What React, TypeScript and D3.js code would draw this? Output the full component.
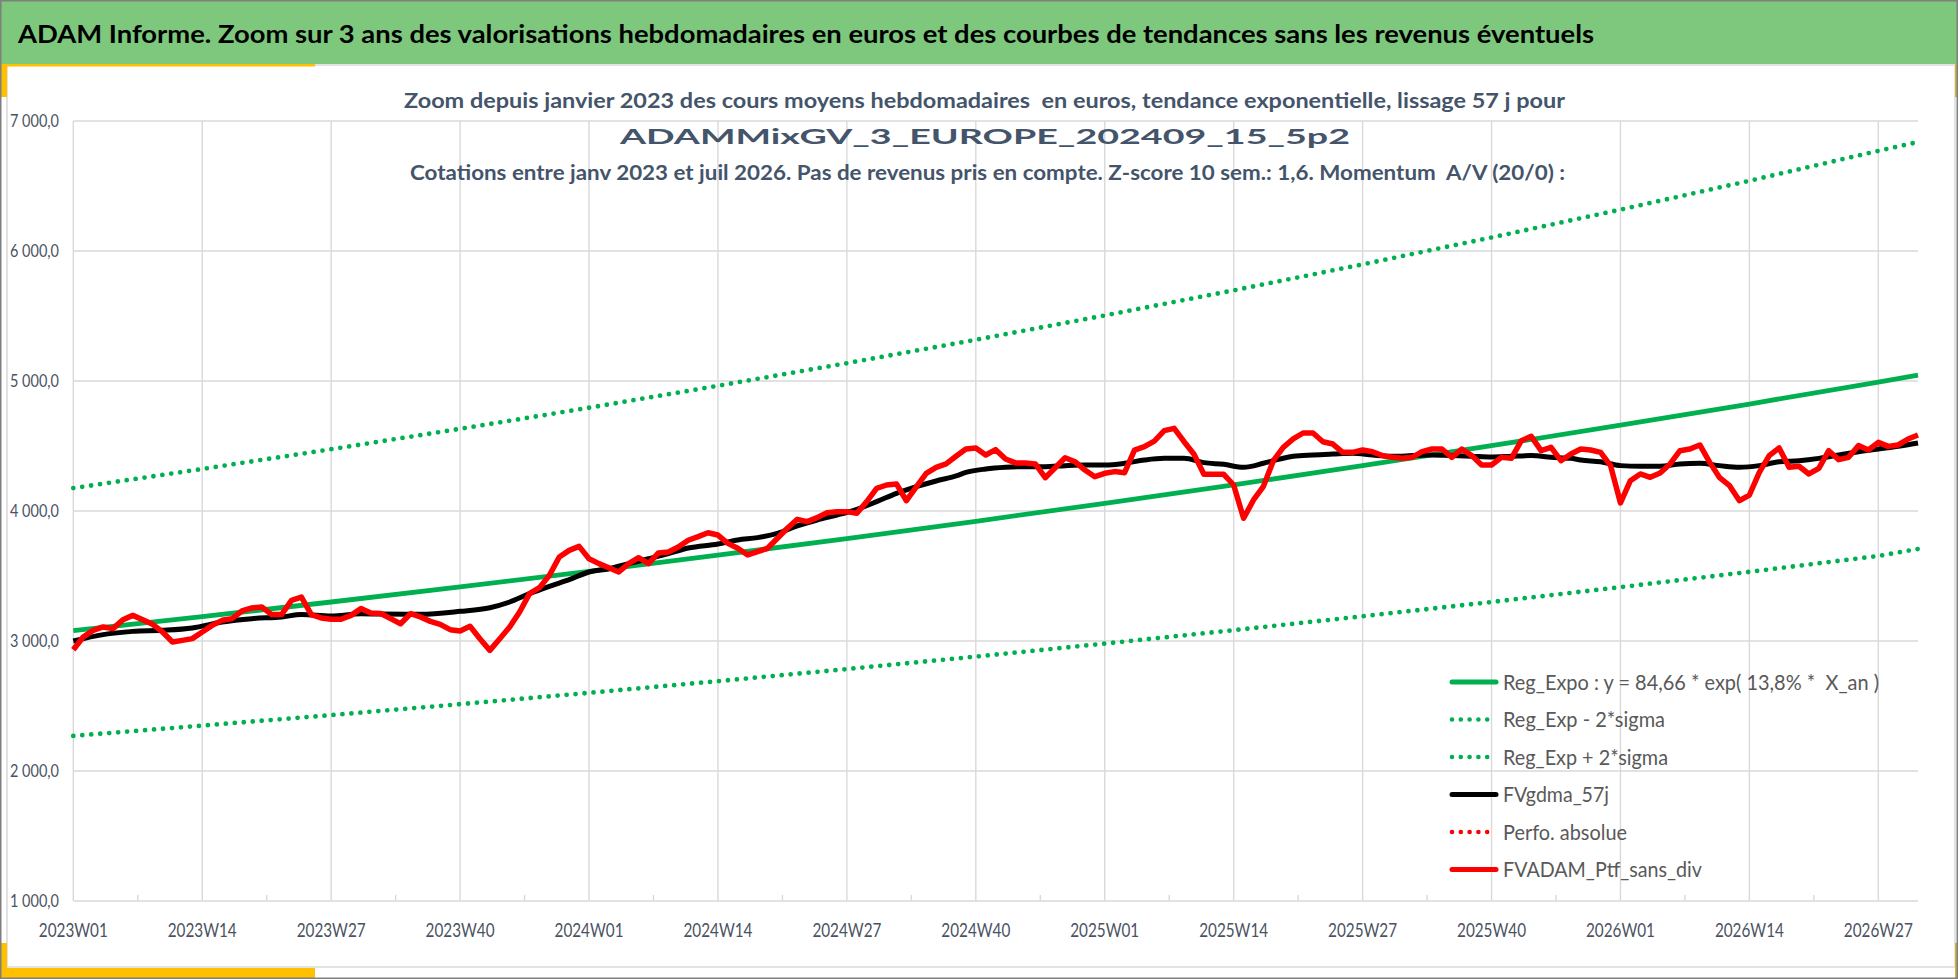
import * as d3 from "d3";

// weekly categories 2023W01 .. 2026W31 (index 0..186)
const N_WEEKS = 187;

const TICK_LABELS = [
  "2023W01", "2023W14", "2023W27", "2023W40", "2024W01", "2024W14", "2024W27", "2024W40",
  "2025W01", "2025W14", "2025W27", "2025W40", "2026W01", "2026W14", "2026W27",
];

const Y_TICKS = [1000, 2000, 3000, 4000, 5000, 6000, 7000];

// FVADAM_Ptf_sans_div, one value per week
const RED_VALUES = [
  2933, 3031, 3082, 3108, 3095, 3164, 3197, 3164, 3128, 3069, 2992, 3005, 3018, 3069, 3120, 3159,
  3172, 3231, 3254, 3262, 3203, 3203, 3313, 3338, 3203, 3177, 3167, 3167, 3197, 3249, 3215, 3212,
  3172, 3133, 3210, 3185, 3151, 3128, 3087, 3077, 3113, 3018, 2928, 3018, 3108, 3223, 3364, 3410,
  3505, 3646, 3697, 3728, 3633, 3595, 3564, 3531, 3595, 3641, 3595, 3677, 3685, 3723, 3775, 3803,
  3833, 3815, 3751, 3713, 3662, 3687, 3713, 3790, 3867, 3936, 3918, 3949, 3987, 3995, 3995, 3982,
  4072, 4174, 4200, 4208, 4079, 4185, 4290, 4336, 4362, 4421, 4477, 4485, 4431, 4472, 4400, 4370,
  4370, 4362, 4256, 4333, 4410, 4379, 4315, 4264, 4290, 4303, 4295, 4469, 4495, 4538, 4618, 4636,
  4533, 4436, 4282, 4282, 4282, 4200, 3944, 4085, 4190, 4387, 4490, 4554, 4600, 4600, 4533, 4515,
  4451, 4451, 4469, 4456, 4426, 4413, 4405, 4413, 4456, 4477, 4477, 4413, 4477, 4426, 4354, 4354,
  4413, 4405, 4541, 4574, 4464, 4490, 4387, 4438, 4477, 4469, 4451, 4349, 4062, 4233, 4285, 4259,
  4292, 4362, 4464, 4477, 4508, 4374, 4256, 4195, 4079, 4123, 4297, 4426, 4485, 4336, 4344, 4285,
  4328, 4464, 4395, 4413, 4503, 4469, 4528, 4497, 4508, 4554, 4585,
];

// FVgdma_57j, read every 2-3 weeks
const BLACK_WEEKS = [
  0, 3, 6, 9, 12, 15, 18, 21, 23, 26, 29, 31, 35, 39, 42, 44, 46, 48, 50, 52, 54, 56, 58, 60, 62,
  65, 67, 69, 71, 73, 75, 77, 79, 81, 83, 85, 87, 89, 90, 92, 94, 96, 98, 100, 102, 104, 106, 108,
  110, 112, 114, 116, 118, 120, 121, 123, 125, 127, 129, 131, 133, 135, 137, 139, 141, 143, 145,
  147, 149, 151, 152, 154, 156, 158, 160, 162, 164, 166, 168, 170, 172, 174, 176, 178, 180, 182,
  184, 186,
];
const BLACK_VALUES = [
  3000, 3049, 3074, 3082, 3100, 3146, 3172, 3185, 3203, 3192, 3210, 3207, 3205, 3228, 3256, 3300,
  3364, 3420, 3472, 3531, 3556, 3595, 3633, 3672, 3715, 3746, 3777, 3795, 3828, 3885, 3931, 3969,
  4013, 4072, 4136, 4187, 4231, 4270, 4297, 4323, 4336, 4341, 4341, 4349, 4354, 4354, 4367, 4392,
  4405, 4405, 4372, 4359, 4336, 4367, 4387, 4421, 4431, 4438, 4444, 4431, 4421, 4426, 4431, 4426,
  4421, 4415, 4421, 4426, 4413, 4405, 4392, 4379, 4349, 4344, 4344, 4362, 4367, 4349, 4336, 4349,
  4379, 4387, 4405, 4431, 4456, 4477, 4497, 4523,
];

// regression lines, read at the gridline weeks
const TREND_WEEKS = [0, 13, 26, 39, 52, 65, 78, 91, 104, 117, 130, 143, 156, 169, 182, 186];
const TREND_VALUES = [3080, 3188, 3300, 3416, 3536, 3660, 3788, 3921, 4059, 4201, 4349, 4502, 4660, 4823, 4992, 5046];
const UPPER_VALUES = [4176, 4323, 4475, 4632, 4794, 4963, 5137, 5317, 5504, 5697, 5897, 6104, 6318, 6540, 6770, 6838];
const LOWER_VALUES = [2270, 2349, 2430, 2514, 2601, 2691, 2784, 2880, 2980, 3083, 3190, 3300, 3414, 3532, 3654, 3708];

const LEGEND = [
  { label: "Reg_Expo : y = 84,66 * exp( 13,8% *  X_an )", color: "#00b050", dotted: false, len: 376 },
  { label: "Reg_Exp - 2*sigma", color: "#00b050", dotted: true, len: 162 },
  { label: "Reg_Exp + 2*sigma", color: "#00b050", dotted: true, len: 165 },
  { label: "FVgdma_57j", color: "#000000", dotted: false, len: 106 },
  { label: "Perfo. absolue", color: "#ff0000", dotted: true, len: 124 },
  { label: "FVADAM_Ptf_sans_div", color: "#ff0000", dotted: false, len: 199 },
];

const W = 1958;
const H = 979;
const FONT = "Lato, 'Open Sans', sans-serif";
const GRID = "#d9d9d9";

const x = d3.scaleLinear().domain([0, N_WEEKS - 1]).range([73.3, 1918]);
const y = d3.scaleLinear().domain([1000, 7000]).range([901, 121]);

const fr = d3.formatLocale({ decimal: ",", thousands: " ", grouping: [3], currency: ["", " €"] });
const fmt = fr.format(",.1f");

const lineXY = d3
  .line<[number, number]>()
  .x((d) => x(d[0]))
  .y((d) => y(d[1]));

const zip = (ws: number[], vs: number[]) => ws.map((w, i) => [w, vs[i]] as [number, number]);

export default function App() {
  const redPath = lineXY(RED_VALUES.map((v, i) => [i, v] as [number, number])) ?? "";
  const blackPath =
    d3
      .line<[number, number]>()
      .x((d) => x(d[0]))
      .y((d) => y(d[1]))
      .curve(d3.curveMonotoneX)(zip(BLACK_WEEKS, BLACK_VALUES)) ?? "";
  const trendPath = lineXY(zip(TREND_WEEKS, TREND_VALUES)) ?? "";
  const upperPath = lineXY(zip(TREND_WEEKS, UPPER_VALUES)) ?? "";
  const lowerPath = lineXY(zip(TREND_WEEKS, LOWER_VALUES)) ?? "";

  const majorWeeks = TICK_LABELS.map((_, i) => i * 13);
  const minorWeeks = d3.range(6.5, N_WEEKS - 1, 13);

  return (
    <>
      <style>{`body{margin:0}`}</style>
      <svg width={W} height={H} style={{ display: "block", fontFamily: FONT }}>
        {/* frame and header */}
        <rect x={0} y={0} width={W} height={H} fill="#ffffff" />
        <rect x={0} y={0} width={W} height={64} fill="#7dc87d" />
        <rect x={7} y={65} width={1948} height={902} fill="#ffffff" stroke={GRID} strokeWidth={1.5} />
        <text
          x={18}
          y={43}
          fontSize={24.5}
          fontWeight="bold"
          fill="#000"
          textLength={1576}
          lengthAdjust="spacingAndGlyphs"
        >
          ADAM Informe. Zoom sur 3 ans des valorisations hebdomadaires en euros et des courbes de tendances sans les revenus éventuels
        </text>
        <rect x={0} y={64} width={7} height={33} fill="#ffc000" />
        <rect x={7} y={64} width={308} height={2.5} fill="#ffc000" />
        <rect x={0} y={943} width={7} height={35} fill="#ffc000" />
        <rect x={0} y={968} width={315} height={10} fill="#ffc000" />
        <rect x={1955} y={64} width={3} height={33} fill="#d4b040" />
        <rect x={1955} y={943} width={3} height={35} fill="#d4b040" />
        <rect x={0.75} y={0.75} width={W - 1.5} height={H - 1.5} fill="none" stroke="#7f7f7f" strokeWidth={1.5} />

        {/* gridlines */}
        <g stroke={GRID} strokeWidth={1.4}>
          {Y_TICKS.map((t) => (
            <line key={t} x1={x(0)} x2={x(N_WEEKS - 1)} y1={y(t)} y2={y(t)} />
          ))}
          {majorWeeks.map((w) => (
            <line key={w} x1={x(w)} x2={x(w)} y1={y(7000)} y2={y(1000)} />
          ))}
          {minorWeeks.map((w) => (
            <line key={w} x1={x(w)} x2={x(w)} y1={y(1000) - 6} y2={y(1000)} />
          ))}
        </g>

        {/* axis labels */}
        <g fill="#4a5261" fontSize={17}>
          {Y_TICKS.map((t) => (
            <text key={t} x={10} y={y(t) + 6} textLength={49} lengthAdjust="spacingAndGlyphs">
              {fmt(t)}
            </text>
          ))}
        </g>
        <g fill="#4a5261" fontSize={19.4}>
          {TICK_LABELS.map((l, i) => (
            <text
              key={l}
              x={x(majorWeeks[i]) - 34.5}
              y={937}
              textLength={69}
              lengthAdjust="spacingAndGlyphs"
            >
              {l}
            </text>
          ))}
        </g>

        {/* chart title */}
        <g fill="#44546a" fontWeight="bold" fontSize={21.8}>
          <text x={404} y={108} textLength={1161} lengthAdjust="spacingAndGlyphs" style={{ whiteSpace: "pre" }}>
            Zoom depuis janvier 2023 des cours moyens hebdomadaires  en euros, tendance exponentielle, lissage 57 j pour
          </text>
          <text x={620} y={144} textLength={730} lengthAdjust="spacingAndGlyphs">
            ADAMMixGV_3_EUROPE_202409_15_5p2
          </text>
          <text x={410} y={180} textLength={1155} lengthAdjust="spacingAndGlyphs" style={{ whiteSpace: "pre" }}>
            Cotations entre janv 2023 et juil 2026. Pas de revenus pris en compte. Z-score 10 sem.: 1,6. Momentum  A/V (20/0) :
          </text>
        </g>

        {/* series */}
        <g fill="none" strokeLinejoin="round">
          <path d={trendPath} stroke="#00b050" strokeWidth={4.8} />
          <path d={lowerPath} stroke="#00b050" strokeWidth={4.8} strokeDasharray="0 9" strokeLinecap="round" />
          <path d={upperPath} stroke="#00b050" strokeWidth={4.8} strokeDasharray="0 9" strokeLinecap="round" />
          <path d={blackPath} stroke="#000000" strokeWidth={5} />
          <path d={redPath} stroke="#ff0000" strokeWidth={5.5} />
        </g>

        {/* legend */}
        <g>
          {LEGEND.map((e, i) => {
            const cy = 682 + i * 37.5;
            return (
              <g key={e.label}>
                <line
                  x1={1452}
                  x2={1496}
                  y1={cy}
                  y2={cy}
                  stroke={e.color}
                  strokeWidth={e.dotted ? 4.6 : 5}
                  strokeLinecap="round"
                  strokeDasharray={e.dotted ? "0 8.8" : undefined}
                />
                <text
                  x={1503}
                  y={cy + 7.5}
                  fontSize={21}
                  fill="#595959"
                  textLength={e.len}
                  lengthAdjust="spacingAndGlyphs"
                  style={{ whiteSpace: "pre" }}
                >
                  {e.label}
                </text>
              </g>
            );
          })}
        </g>
      </svg>
    </>
  );
}
